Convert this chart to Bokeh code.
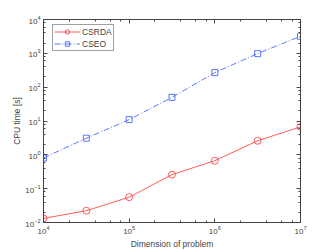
from bokeh.plotting import figure
from bokeh.models import LogAxis, Legend, LegendItem, LogTicker
from bokeh.embed import file_html
from bokeh.resources import INLINE

dims = [1e4, 3.16e4, 1e5, 3.16e5, 1e6, 3.16e6, 1e7]
csrda = [0.0132, 0.0223, 0.056, 0.26, 0.67, 2.6, 6.7]
cseo = [0.81, 3.1, 11, 50, 270, 980, 3200]

p = figure(frame_width=257, frame_height=203, x_axis_type="log", y_axis_type="log",
           x_range=(1e4, 1e7), y_range=(1e-2, 1e4),
           output_backend="svg", toolbar_location=None,
           min_border_left=43, min_border_right=32, min_border_top=19, min_border_bottom=28)
p.xgrid.visible = False
p.ygrid.visible = False
p.outline_line_color = "#444444"
p.background_fill_color = "white"

font = "Liberation Sans"
for ax in (p.xaxis[0], p.yaxis[0]):
    ax.major_tick_in = 4
    ax.major_tick_out = 0
    ax.minor_tick_in = 2
    ax.minor_tick_out = 0
    ax.axis_line_color = "#444444"
    ax.major_tick_line_color = "#444444"
    ax.minor_tick_line_color = "#444444"
    ax.major_label_text_font = font
    ax.major_label_text_font_size = "8px"
    ax.axis_label_text_font = font
    ax.axis_label_text_font_size = "8.5px"
    ax.axis_label_text_font_style = "normal"
    ax.axis_label_standoff = 2
    ax.major_label_standoff = 3
p.yaxis[0].axis_label_standoff = 0

p.xaxis.axis_label = "Dimension of problem"
p.yaxis.axis_label = "CPU time [s]"
p.xaxis.ticker = LogTicker(desired_num_ticks=4)
p.yaxis.ticker = LogTicker(desired_num_ticks=7)

for loc, tk in (("right", LogTicker(desired_num_ticks=7)), ("above", LogTicker(desired_num_ticks=4))):
    a = LogAxis(ticker=tk)
    a.major_label_text_alpha = 0
    a.major_label_text_font_size = "1px"
    a.major_tick_in = 4
    a.major_tick_out = 0
    a.minor_tick_in = 2
    a.minor_tick_out = 0
    a.axis_line_color = "#444444"
    a.major_tick_line_color = "#444444"
    a.minor_tick_line_color = "#444444"
    a.major_label_standoff = 0
    p.add_layout(a, loc)

r1 = p.line(dims, csrda, line_color="#ff3333", line_width=0.8)
m1 = p.scatter(dims, csrda, marker="circle", size=7, fill_color=None, line_color="#ff3333", line_width=0.8)
r2 = p.line(dims, cseo, line_color="#3355ff", line_width=0.8, line_dash="6 2 1 2")
m2 = p.scatter(dims, cseo, marker="square", size=6, fill_color=None, line_color="#3355ff", line_width=0.8)

legend = Legend(items=[LegendItem(label="CSRDA", renderers=[r1, m1]),
                       LegendItem(label="CSEO", renderers=[r2, m2])],
                location=(9, 171))
legend.label_text_font = font
legend.label_text_font_size = "8.5px"
legend.border_line_color = "#444444"
legend.padding = 1
legend.spacing = 1
legend.margin = 0
legend.glyph_height = 11
legend.label_height = 11
legend.label_standoff = 2
legend.glyph_width = 26
p.add_layout(legend)

open("out.html", "w").write(file_html(p, INLINE))
